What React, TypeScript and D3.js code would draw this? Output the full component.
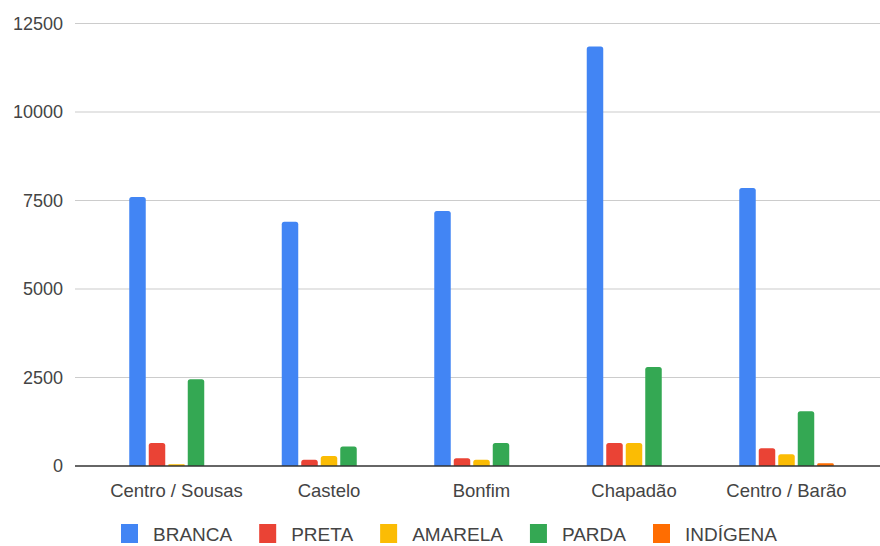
import React, { useEffect, useRef } from "react";
import * as d3 from "d3";

// Population by colour/race for each region
const categories = ["Centro / Sousas", "Castelo", "Bonfim", "Chapadão", "Centro / Barão"];
const seriesNames = ["BRANCA", "PRETA", "AMARELA", "PARDA", "INDÍGENA"];
const branca = [7600, 6900, 7200, 11850, 7850];
const preta = [650, 180, 220, 650, 500];
const amarela = [50, 280, 180, 650, 330];
const parda = [2450, 550, 650, 2800, 1550];
const indigena = [0, 0, 0, 0, 80];
const yTicks = [0, 2500, 5000, 7500, 10000, 12500];

const seriesValues = [branca, preta, amarela, parda, indigena];
const colors = ["#4285F4", "#EA4335", "#FBBC04", "#34A853", "#FF6D01"];

const W = 880;
const H = 546;
const FONT = "Arial, 'Liberation Sans', sans-serif";

export default function App() {
  const ref = useRef<SVGSVGElement | null>(null);

  useEffect(() => {
    const svg = d3.select(ref.current);
    svg.selectAll("*").remove();

    const plotLeft = 75;
    const plotRight = 880;
    const y = d3.scaleLinear().domain([0, 12500]).range([466, 23.5]);

    const x0 = d3.scaleBand<string>().domain(categories).range([100.25, 862.75]).paddingInner(0).paddingOuter(0);
    const bw = x0.bandwidth();
    const x1 = d3
      .scaleBand<string>()
      .domain(seriesNames)
      .range([bw / 2 - 47.25, bw / 2 + 47.25])
      .paddingInner(0.154)
      .paddingOuter(0);

    // grid lines
    svg
      .append("g")
      .selectAll("line")
      .data(yTicks.filter((t) => t !== 0))
      .join("line")
      .attr("x1", plotLeft)
      .attr("x2", plotRight)
      .attr("y1", (d) => y(d))
      .attr("y2", (d) => y(d))
      .attr("stroke", "#cccccc")
      .attr("stroke-width", 1.2);

    // y tick labels
    svg
      .append("g")
      .selectAll("text")
      .data(yTicks)
      .join("text")
      .attr("x", 63)
      .attr("y", (d) => y(d))
      .attr("dy", "0.36em")
      .attr("text-anchor", "end")
      .attr("font-family", FONT)
      .attr("font-size", 18)
      .attr("fill", "#444")
      .text((d) => String(d));

    // bars
    const groups = svg
      .append("g")
      .selectAll("g")
      .data(categories)
      .join("g")
      .attr("transform", (d) => `translate(${x0(d)},0)`);

    groups
      .selectAll("path")
      .data((_, i) =>
        seriesNames.map((s, k) => ({ s, k, v: seriesValues[k][i] }))
      )
      .join("path")
      .filter((d) => d.v > 0)
      .attr("d", (d) => {
        const xl = x1(d.s)!;
        const w = x1.bandwidth();
        const top = y(d.v);
        const base = y(0);
        const r = Math.min(2.5, (base - top) / 2, w / 2);
        return `M${xl},${base}V${top + r}Q${xl},${top} ${xl + r},${top}H${xl + w - r}Q${xl + w},${top} ${xl + w},${top + r}V${base}Z`;
      })
      .attr("fill", (d) => colors[d.k]);

    // baseline
    svg
      .append("line")
      .attr("x1", plotLeft)
      .attr("x2", plotRight)
      .attr("y1", y(0))
      .attr("y2", y(0))
      .attr("stroke", "#333")
      .attr("stroke-width", 1.6);

    // x labels
    svg
      .append("g")
      .selectAll("text")
      .data(categories)
      .join("text")
      .attr("x", (d) => x0(d)! + bw / 2)
      .attr("y", 497)
      .attr("text-anchor", "middle")
      .attr("font-family", FONT)
      .attr("font-size", 18.5)
      .attr("fill", "#444")
      .text((d) => d);

    // legend
    const legend = svg.append("g");
    let cx = 121;
    seriesNames.forEach((name, k) => {
      legend
        .append("rect")
        .attr("x", cx)
        .attr("y", 524)
        .attr("width", 17)
        .attr("height", 19)
        .attr("fill", colors[k]);
      const t = legend
        .append("text")
        .attr("x", cx + 32)
        .attr("y", 541)
        .attr("font-family", FONT)
        .attr("font-size", 19)
        .attr("fill", "#444")
        .text(name);
      const len = (t.node() as SVGTextElement).getComputedTextLength();
      cx = cx + 32 + len + 27;
    });
  }, []);

  return (
    <svg
      ref={ref}
      width={W}
      height={H}
      style={{ position: "fixed", left: 0, top: 0, background: "#fff", display: "block" }}
    />
  );
}
